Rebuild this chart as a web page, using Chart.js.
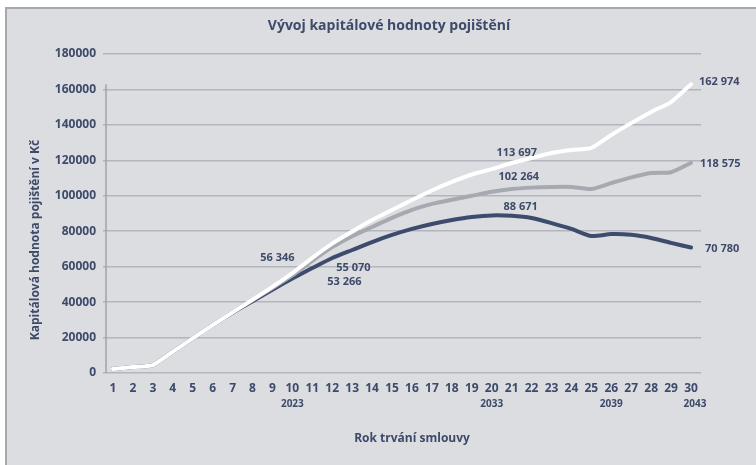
<!DOCTYPE html>
<html lang="cs">
<head>
<meta charset="utf-8">
<title>Vývoj kapitálové hodnoty pojištění</title>
<script src="https://cdn.jsdelivr.net/npm/chart.js@4.4.1/dist/chart.umd.min.js"></script>
<style>
  html, body { margin: 0; padding: 0; background: #fff; }
  #wrap { position: relative; width: 756px; height: 465px; overflow: hidden; }
  #panel { position: absolute; left: 5px; top: 7px; width: 800px; height: 500px;
           background: #dcdde1; border: 2px solid #a6a8b0; }
  #chart { position: absolute; left: 0; top: 0; }
</style>
</head>
<body>
<div id="wrap">
  <div id="panel"></div>
  <canvas id="chart" width="756" height="465"></canvas>
</div>
<script>
// contract years 1..30
const years = ['1', '2', '3', '4', '5', '6', '7', '8', '9', '10',
               '11', '12', '13', '14', '15', '16', '17', '18', '19', '20',
               '21', '22', '23', '24', '25', '26', '27', '28', '29', '30'];

// calendar year shown under some of the contract years
const yearMarks = ['10', '20', '26', '30'];
const yearNames = ['2023', '2033', '2039', '2043'];

// capital value in CZK, three scenarios
const highValues = [2300, 3400, 4500, 12000, 19500, 27000, 34200, 41300, 48600, 56346,
                    65000, 73000, 79800, 86300, 92000, 97600, 103000, 107800, 112000, 115000,
                    118500, 121300, 124100, 125800, 127000, 134300, 141000, 147300, 152900, 162974];
const midValues = [2300, 3400, 4500, 12000, 19500, 27000, 34100, 41100, 48000, 55070,
                   63300, 71000, 77200, 82400, 87500, 92000, 95400, 97800, 100000, 102264,
                   103800, 104600, 105000, 105000, 103800, 107200, 110400, 112800, 113300, 118575];
const lowValues = [2300, 3400, 4500, 12000, 19500, 27000, 34000, 40500, 47000, 53266,
                   59200, 64900, 69400, 73900, 77900, 81300, 84100, 86300, 88000, 88900,
                   88671, 87500, 84600, 81300, 77300, 78400, 78000, 76200, 73400, 70780];

// value labels written next to the lines
const calloutSeries = [0, 1, 2, 0, 1, 2, 0, 1, 2];
const calloutYears = ['10', '10', '10', '20', '20', '20', '30', '30', '30'];
const calloutTexts = ['56 346', '55 070', '53 266', '113 697', '102 264', '88 671',
                      '162 974', '118 575', '70 780'];

const yMin = 0, yMax = 180000, yStep = 20000;

const textColor = '#3e4a6a';
const fontFamily = '"Open Sans", "Noto Sans", sans-serif';

// label offsets from their point (px), same order as callouts
const calloutOffsets = [[-15, -15, 'center'], [61, -8, 'center'], [52, 3, 'center'],
                        [25, -16, 'center'], [27, -15, 'center'], [29, -9, 'center'],
                        [8, -2, 'left'], [9, 1, 'left'], [14, 1, 'left']];

const decor = {
    id: 'decor',
    beforeDatasetsDraw(chart) {
        const { ctx, chartArea, scales } = chart;
        // vertical axis line
        ctx.save();
        ctx.strokeStyle = '#9fa2ab';
        ctx.lineWidth = 1.5;
        ctx.beginPath();
        ctx.moveTo(chartArea.left + 3, scales.y.getPixelForValue(163000));
        ctx.lineTo(chartArea.left + 3, chartArea.bottom);
        ctx.stroke();
        ctx.restore();
    },
    afterDraw(chart) {
        const { ctx, chartArea, scales } = chart;
        ctx.save();
        ctx.fillStyle = textColor;
        ctx.textBaseline = 'middle';

        // title
        ctx.textAlign = 'center';
        ctx.font = 'bold 14px ' + fontFamily;
        ctx.fillText('Vývoj kapitálové hodnoty pojištění', 389, 26);

        // axis titles
        ctx.font = 'bold 12px ' + fontFamily;
        ctx.fillText('Rok trvání smlouvy', (chartArea.left + chartArea.right) / 2 + 10, 439);
        ctx.save();
        ctx.translate(36, 240);
        ctx.rotate(-Math.PI / 2);
        ctx.fillText('Kapitálová hodnota pojištění v Kč', 0, 0);
        ctx.restore();

        // calendar years under the ticks
        ctx.font = 'bold 10px ' + fontFamily;
        yearMarks.forEach((m, i) => {
            const x = scales.x.getPixelForValue(years.indexOf(m));
            ctx.fillText(yearNames[i], x + (i === yearMarks.length - 1 ? 4 : 0), 404);
        });

        // value callouts
        ctx.font = 'bold 11px ' + fontFamily;
        calloutTexts.forEach((t, i) => {
            const meta = chart.getDatasetMeta(calloutSeries[i]);
            const pt = meta.data[years.indexOf(calloutYears[i])];
            const [dx, dy, align] = calloutOffsets[i];
            ctx.textAlign = align;
            ctx.fillText(t, pt.x + dx, pt.y + dy);
        });
        ctx.restore();
    }
};

const lineStyle = {
    borderWidth: 4,
    pointRadius: 0,
    pointHoverRadius: 0,
    tension: 0.2,
    fill: false,
    borderCapStyle: 'round',
    borderJoinStyle: 'round'
};

new Chart(document.getElementById('chart').getContext('2d'), {
    type: 'line',
    data: {
        labels: years,
        datasets: [
            { label: 'high', data: highValues, borderColor: '#ffffff', ...lineStyle },
            { label: 'mid', data: midValues, borderColor: '#a7a9b0', ...lineStyle },
            { label: 'low', data: lowValues, borderColor: '#3d4b6d', ...lineStyle }
        ]
    },
    options: {
        responsive: false,
        animation: false,
        layout: { padding: { top: 54, left: 0, right: 55, bottom: 16 } },
        plugins: {
            legend: { display: false },
            tooltip: { enabled: false },
            title: { display: false }
        },
        scales: {
            x: {
                type: 'category',
                offset: true,
                grid: { display: false, drawTicks: false },
                border: { display: false },
                ticks: {
                    color: textColor,
                    font: { family: fontFamily, size: 12, weight: 'bold' },
                    padding: 8,
                    maxRotation: 0,
                    autoSkip: false
                },
                afterFit(scale) { scale.height = 76; }
            },
            y: {
                min: yMin,
                max: yMax,
                grid: { color: '#b3b5bd', lineWidth: 1.5, drawTicks: false },
                border: { display: false },
                ticks: {
                    stepSize: yStep,
                    color: textColor,
                    font: { family: fontFamily, size: 12, weight: 'bold' },
                    padding: 7,
                    callback: v => String(v)
                },
                afterFit(scale) { scale.height = scale.height; scale.width = 103; }
            }
        }
    },
    plugins: [decor]
});
</script>
</body>
</html>
